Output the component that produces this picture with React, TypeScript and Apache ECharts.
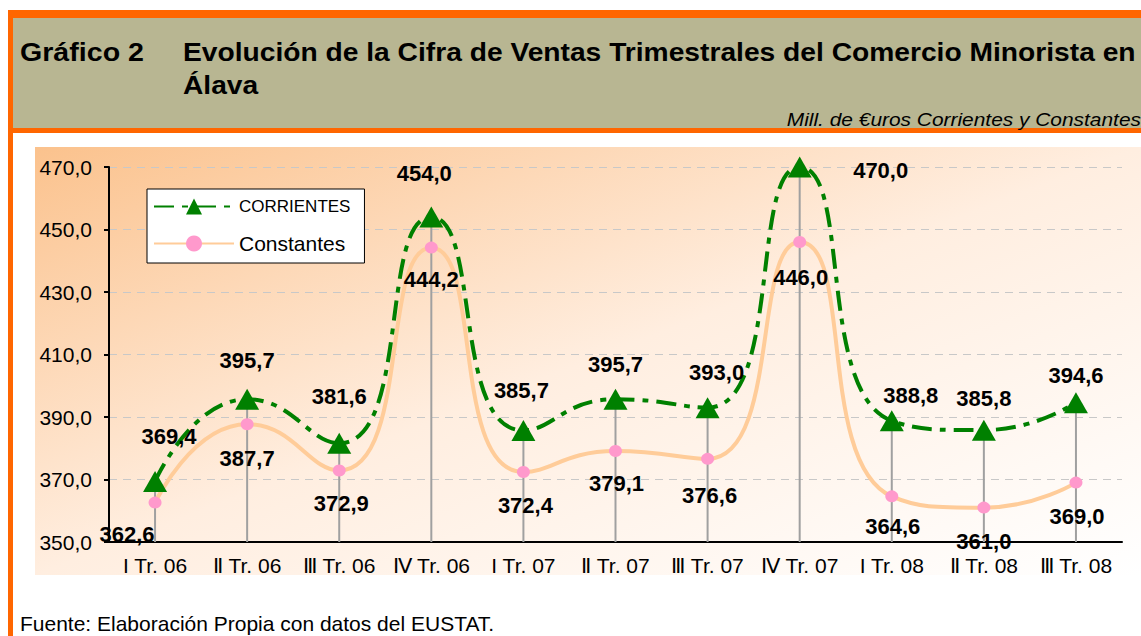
import React, { useEffect, useRef } from "react";
import * as echarts from "echarts";

const categories = [
  "I Tr. 06", "Ⅱ Tr. 06", "Ⅲ Tr. 06", "Ⅳ Tr. 06",
  "I Tr. 07", "Ⅱ Tr. 07", "Ⅲ Tr. 07", "Ⅳ Tr. 07",
  "I Tr. 08", "Ⅱ Tr. 08", "Ⅲ Tr. 08",
];
const corrientes = [369.4, 395.7, 381.6, 454.0, 385.7, 395.7, 393.0, 470.0, 388.8, 385.8, 394.6];
const constantes = [362.6, 387.7, 372.9, 444.2, 372.4, 379.1, 376.6, 446.0, 364.6, 361.0, 369.0];
const yMin = 350;
const yMax = 470;
const yStep = 20;

// label offsets (style only)
const corrOffsets = [[14, -45], [0, -39], [0, -47], [-7, -44], [-2, -40], [0, -35], [9, -35], [81, 3], [19, -25], [0, -32], [0, -27]];
const consOffsets = [[-28, 32], [0, 34], [2, 33], [0, 32], [2, 33], [1, 32], [2, 37], [1, 35], [1, 30], [0, 34], [1, 34]];

const FONT = "'Liberation Sans', Arial, sans-serif";
const fmt = (v: number) => v.toFixed(1).replace(".", ",");

export default function App() {
  const ref = useRef<HTMLDivElement>(null);
  useEffect(() => {
    if (!ref.current) return;
    const chart = echarts.init(ref.current, null, { renderer: "svg" });
    const labelBase = {
      show: true,
      position: "inside",
      fontFamily: FONT,
      fontSize: 22,
      fontWeight: "bold",
      color: "#000",
      formatter: (p: any) => fmt(p.value),
    };
    const option: any = {
      animation: false,
      backgroundColor: "#ffffff",
      textStyle: { fontFamily: FONT },
      graphic: [
        { type: "rect", z: -10, shape: { x: 35, y: 147, width: 1106, height: 428 },
          style: { fill: new echarts.graphic.LinearGradient(0, 0, 1, 1, [
            { offset: 0, color: "#FBC28D" },
            { offset: 0.5, color: "#FFEEE0" },
            { offset: 1, color: "#FFFFFF" },
          ]) }, silent: true },
        { type: "rect", z: -5, shape: { x: 8, y: 10, width: 1133, height: 8 }, style: { fill: "#FF6600" }, silent: true },
        { type: "rect", z: -5, shape: { x: 13, y: 18, width: 1128, height: 110 }, style: { fill: "#B8B692" }, silent: true },
        { type: "rect", z: -5, shape: { x: 8, y: 128, width: 1133, height: 5 }, style: { fill: "#FF6600" }, silent: true },
        { type: "rect", z: -5, shape: { x: 8, y: 10, width: 5, height: 626 }, style: { fill: "#FF6600" }, silent: true },
        { type: "text", z: 10, x: 20, y: 52, scaleX: 1.1, style: { text: "Gráfico 2", font: `bold 26px ${FONT}`, fill: "#000", verticalAlign: "middle" } },
        { type: "text", z: 10, x: 183, y: 52, scaleX: 1.085, style: { text: "Evolución de la Cifra de Ventas Trimestrales del Comercio Minorista en", font: `bold 26px ${FONT}`, fill: "#000", verticalAlign: "middle" } },
        { type: "text", z: 10, x: 183, y: 85, scaleX: 1.085, style: { text: "Álava", font: `bold 26px ${FONT}`, fill: "#000", verticalAlign: "middle" } },
        { type: "text", z: 10, x: 1141, y: 119, scaleX: 1.1, style: { text: "Mill. de €uros Corrientes y Constantes", font: `italic 19px ${FONT}`, fill: "#000", align: "right", verticalAlign: "middle" } },
        { type: "text", z: 10, x: 20, y: 624, scaleX: 1.05, style: { text: "Fuente: Elaboración Propia con datos del EUSTAT.", font: `20px ${FONT}`, fill: "#000", verticalAlign: "middle" } },
      ],
      grid: { left: 109, right: 19, top: 167, bottom: 94, containLabel: false },
      legend: {
        orient: "vertical",
        left: 147,
        top: 189,
        padding: [9, 14, 9, 6],
        itemGap: 18,
        itemWidth: 80,
        itemHeight: 20,
        backgroundColor: "#ffffff",
        borderColor: "#000000",
        borderWidth: 1,
        borderRadius: 0,
        data: ["CORRIENTES", "Constantes"],
        formatter: (name: string) => (name === "CORRIENTES" ? `{a|${name}}` : `{b|${name}}`),
        textStyle: {
          color: "#000",
          fontFamily: FONT,
          rich: {
            a: { fontSize: 17, lineHeight: 20, fontFamily: FONT, color: "#000" },
            b: { fontSize: 21, lineHeight: 20, fontFamily: FONT, color: "#000" },
          },
        },
      },
      xAxis: {
        type: "category",
        data: categories,
        boundaryGap: true,
        axisLine: { show: true, lineStyle: { color: "#000", width: 2 } },
        axisTick: { show: false },
        axisLabel: { color: "#000", fontSize: 21, fontFamily: FONT, margin: 13, interval: 0 },
        splitLine: { show: false },
      },
      yAxis: {
        type: "value",
        min: yMin,
        max: yMax,
        interval: yStep,
        axisLine: { show: true, lineStyle: { color: "#000", width: 2 } },
        axisTick: { show: true, length: 5, lineStyle: { color: "#000", width: 2 } },
        axisLabel: { color: "#000", fontSize: 21, fontFamily: FONT, margin: 17, formatter: (v: number) => fmt(v) },
        splitLine: { show: true, lineStyle: { color: "#C8C8C8", width: 1, type: [8, 6] } },
      },
      series: [
        {
          name: "drop",
          type: "bar",
          data: categories.map((_, i) => Math.max(corrientes[i], constantes[i])),
          barWidth: 2,
          itemStyle: { color: "#A0A0A0" },
          silent: true,
          z: 1,
        },
        {
          name: "Constantes",
          type: "line",
          smooth: 0.55,
          data: constantes.map((v, i) => ({ value: v, label: { offset: consOffsets[i] } })),
          symbol: "circle",
          symbolSize: [13, 12],
          itemStyle: { color: "#FF99CC" },
          lineStyle: { color: "#FFCC99", width: 4 },
          label: labelBase,
          z: 3,
        },
        {
          name: "CORRIENTES",
          type: "line",
          smooth: 0.55,
          data: corrientes.map((v, i) => ({ value: v, label: { offset: corrOffsets[i] } })),
          symbol: "triangle",
          symbolSize: [24, 21],
          itemStyle: { color: "#008000" },
          lineStyle: { color: "#008000", width: 4, type: [20, 8, 6, 8] },
          label: labelBase,
          z: 4,
        },
      ],
    };
    chart.setOption(option);
    return () => chart.dispose();
  }, []);
  return (
    <div
      ref={ref}
      style={{ position: "fixed", left: 0, top: 0, width: 1141, height: 636 }}
    />
  );
}
